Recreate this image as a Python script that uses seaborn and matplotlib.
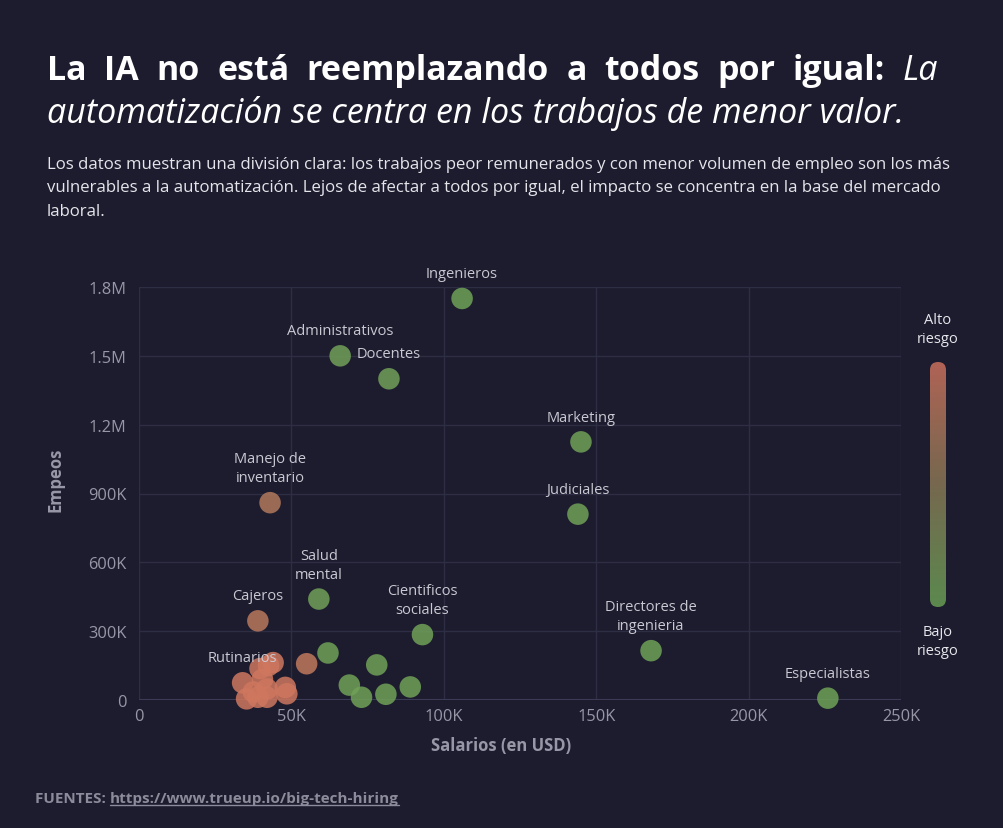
import numpy as np
import pandas as pd
import matplotlib
matplotlib.use('Agg')
import matplotlib.pyplot as plt
import seaborn as sns
from matplotlib.colors import LinearSegmentedColormap
from matplotlib.patches import FancyBboxPatch
from matplotlib.ticker import FixedLocator, FixedFormatter

# --- data ---
labels = ['Ingenieros', 'Administrativos', 'Docentes', 'Marketing', 'Judiciales',
          'Manejo de\ninventario', 'Salud\nmental', 'Cajeros', 'Cientificos\nsociales',
          'Directores de\ningenieria', 'Especialistas', 'Rutinarios',
          '', '', '', '', '', '',
          '', '', '', '', '', '', '', '', '', '', '', '']
salaries = [106000, 66000, 82000, 145000, 144000,
            43000, 59000, 39000, 93000,
            168000, 226000, 34000,
            62000, 78000, 69000, 73000, 81000, 89000,
            55000, 42500, 44000, 39700, 35300, 39000, 42000, 48000, 48500, 42000, 37500, 40500]
employment = [1750000, 1500000, 1400000, 1125000, 810000,
              860000, 440000, 345000, 285000,
              215000, 8000, 75000,
              205000, 153000, 65000, 12000, 25000, 57000,
              158000, 150000, 163000, 137000, 5000, 12000, 48000, 55000, 27000, 12000, 35000, 90000]
risk = [0.05, 0.08, 0.08, 0.06, 0.06,
        0.75, 0.08, 0.8, 0.06,
        0.05, 0.05, 0.95,
        0.06, 0.06, 0.06, 0.06, 0.06, 0.06,
        0.85, 0.95, 0.95, 0.95, 0.95, 0.95, 0.95, 0.95, 0.95, 0.95, 0.95, 0.95]

x_ticks = [0, 50000, 100000, 150000, 200000, 250000]
x_tick_labels = ['0', '50K', '100K', '150K', '200K', '250K']
y_ticks = [0, 300000, 600000, 900000, 1200000, 1500000, 1800000]
y_tick_labels = ['0', '300K', '600K', '900K', '1.2M', '1.5M', '1.8M']

title_bold = 'La IA no está reemplazando a todos por igual:'
title_italic_1 = 'La'
title_italic_2 = 'automatización se centra en los trabajos de menor valor.'
subtitle_lines = [
    'Los datos muestran una división clara: los trabajos peor remunerados y con menor volumen de empleo son los más',
    'vulnerables a la automatización. Lejos de afectar a todos por igual, el impacto se concentra en la base del mercado',
    'laboral.',
]
source_label = 'FUENTES: '
source_url = 'https://www.trueup.io/big-tech-hiring'

df = pd.DataFrame({'job': labels, 'salary': salaries, 'employment': employment, 'risk': risk})

BG = '#1d1c2e'
GRID = '#2d2d44'
TICK = '#9797a7'
W, H = 1004, 829

sns.set_theme(style='dark')
plt.rcParams['font.family'] = ['Open Sans', 'DejaVu Sans']

cmap = LinearSegmentedColormap.from_list('risk', ['#6ca658', '#8d7c57', '#d67660'])

fig = plt.figure(figsize=(W / 100, H / 100), dpi=100)
fig.patch.set_facecolor(BG)


def fx(px):
    return px / W


def fy(py):
    return 1 - py / H


ax = fig.add_axes([fx(139), fy(701), fx(901 - 139), (701 - 288) / H])
ax.set_facecolor(BG)

sns.scatterplot(data=df, x='salary', y='employment', hue='risk', palette=cmap,
                hue_norm=(0, 1), s=240, alpha=0.85, edgecolor='none',
                legend=False, ax=ax, clip_on=False, zorder=3)

for _, row in df[df['job'] != ''].iterrows():
    ax.annotate(row['job'], (row['salary'], row['employment']),
                xytext=(0, 12.5), textcoords='offset points',
                ha='center', va='bottom', fontsize=10.5, color='#c9c9d3',
                linespacing=1.35, zorder=4)

ax.set_xlim(0, 250000)
ax.set_ylim(0, 1800000)
ax.xaxis.set_major_locator(FixedLocator(x_ticks))
ax.xaxis.set_major_formatter(FixedFormatter(x_tick_labels))
ax.yaxis.set_major_locator(FixedLocator(y_ticks))
ax.yaxis.set_major_formatter(FixedFormatter(y_tick_labels))
ax.grid(True, color=GRID, linewidth=1)
ax.axhline(0, color='#3b3b55', linewidth=1.5, zorder=1)
for sp in ax.spines.values():
    sp.set_visible(False)
ax.tick_params(axis='both', colors=TICK, labelsize=11.8, length=0)
ax.tick_params(axis='x', pad=6)
ax.tick_params(axis='y', pad=9)
ax.set_xlabel('')
ax.set_ylabel('')

fig.text(fx(501), fy(746), 'Salarios (en USD)', ha='center', va='center',
         fontsize=12, fontweight='bold', color=TICK)
fig.text(fx(55), fy(480), 'Empeos', ha='center', va='center', rotation=90,
         fontsize=12, fontweight='bold', color=TICK)

# colour bar with rounded ends
cax = fig.add_axes([fx(930), fy(608), fx(16), 245 / H])
cax.set_xlim(0, 16)
cax.set_ylim(0, 245)
cax.axis('off')
grad = np.linspace(0, 1, 256).reshape(-1, 1)
im = cax.imshow(grad, cmap=cmap, origin='lower', extent=(0, 16, 0, 245),
                aspect='auto', alpha=0.8)
clip = FancyBboxPatch((0, 0), 16, 245, boxstyle='round,pad=0,rounding_size=8',
                      transform=cax.transData, facecolor='none', edgecolor='none')
cax.add_patch(clip)
im.set_clip_path(clip)
fig.text(fx(938), fy(330), 'Alto\nriesgo', ha='center', va='center',
         fontsize=10.5, color='#e6e6ec', linespacing=1.3)
fig.text(fx(938), fy(642), 'Bajo\nriesgo', ha='center', va='center',
         fontsize=10.5, color='#e6e6ec', linespacing=1.3)

# justified header text
fig.canvas.draw()
renderer = fig.canvas.get_renderer()


def justify(parts, x0, x1, y, **common):
    # parts: list of (word, extra kwargs)
    texts = []
    for word, kw in parts:
        t = fig.text(0, fy(y), word, va='baseline', ha='left', **common, **kw)
        texts.append(t)
    widths = [t.get_window_extent(renderer).width for t in texts]
    gap = (x1 - x0 - sum(widths)) / (len(texts) - 1)
    x = x0
    for t, w in zip(texts, widths):
        t.set_x(fx(x))
        x += w + gap


title_kw = dict(fontsize=24.5, color='white')
justify([(w, {'fontweight': 'bold'}) for w in title_bold.split()] +
        [(title_italic_1, {'fontstyle': 'italic'})], 47, 938, 80, **title_kw)
fig.text(fx(47), fy(123), title_italic_2, va='baseline', ha='left',
         fontstyle='italic', **title_kw)

sub_kw = dict(fontsize=12.1, color='#e4e4ea')
for i, line in enumerate(subtitle_lines):
    fig.text(fx(47), fy(169 + i * 23.5), line, va='baseline', ha='left', **sub_kw)

# source line with underlined url
src_kw = dict(fontsize=11, fontweight='bold', color='#8b8b9b', va='baseline')
t1 = fig.text(fx(35), fy(803), source_label, ha='left', **src_kw)
w1 = t1.get_window_extent(renderer).width
t2 = fig.text(fx(35 + w1), fy(803), source_url, ha='left', **src_kw)
w2 = t2.get_window_extent(renderer).width
fig.add_artist(plt.Line2D([fx(35 + w1), fx(35 + w1 + w2)], [fy(806), fy(806)],
                          color='#8b8b9b', linewidth=1, transform=fig.transFigure))

fig.savefig('out.png', dpi=100, facecolor=BG)
